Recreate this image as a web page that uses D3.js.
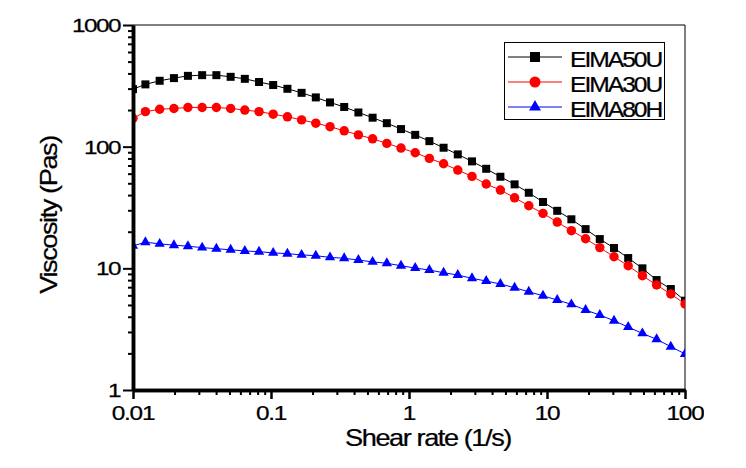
<!DOCTYPE html>
<html>
<head>
<meta charset="utf-8">
<script src="https://cdn.jsdelivr.net/npm/d3@7"></script>
<style>
  html, body { margin: 0; padding: 0; background: #fff; }
  svg { display: block; }
  text { font-family: "Liberation Sans", Arial, sans-serif; fill: #000; stroke: #000; stroke-width: 0.25px; }
</style>
</head>
<body>
<div id="chart"></div>
<script>
// ---------------- data ----------------
const shearRate = [0.01, 0.0123, 0.0156, 0.0198, 0.0250, 0.0317, 0.0402, 0.0510, 0.0646, 0.0819,
  0.1037, 0.1315, 0.1666, 0.2112, 0.2677, 0.3392, 0.4299, 0.5449, 0.6906, 0.875,
  1.109, 1.405, 1.781, 2.257, 2.861, 3.626, 4.595, 5.824, 7.381, 9.354,
  11.86, 15.02, 19.04, 24.13, 30.59, 38.76, 49.13, 62.27, 78.92, 100];

const eima50u = [297, 325, 348, 366, 382, 387, 387, 375, 361, 340,
  321, 299, 277, 254, 231, 212, 191, 173, 156, 139.5,
  125, 111, 98, 86.4, 75.7, 65.8, 56.6, 49.0, 41.8, 35.1,
  29.7, 25.3, 21.0, 17.4, 14.7, 12.15, 10.0, 8.01, 6.76, 5.42];

const eima30u = [171, 194, 203, 206, 210, 210, 210, 206, 200, 194,
  185, 176, 166, 156, 146, 135, 125, 116, 106.4, 97.4,
  89.1, 80.1, 72.4, 64.2, 57.0, 49.3, 44.0, 38.0, 32.7, 28.3,
  24.0, 20.4, 17.5, 14.8, 12.45, 10.5, 8.70, 7.29, 6.15, 5.09];

const eima80h = [15.3, 16.4, 15.9, 15.5, 15.2, 14.8, 14.5, 14.2, 13.9, 13.7,
  13.4, 13.2, 12.9, 12.7, 12.3, 12.1, 11.7, 11.3, 11.0, 10.5,
  10.06, 9.68, 9.20, 8.81, 8.28, 7.86, 7.43, 6.93, 6.42, 5.95,
  5.49, 5.06, 4.54, 4.13, 3.71, 3.29, 2.92, 2.61, 2.27, 1.98];

const seriesNames = ["EIMA50U", "EIMA30U", "EIMA80H"];
const seriesColors = ["#000000", "#ff0000", "#0000ff"];
const seriesShapes = ["square", "circle", "triangle"];

const xTickValues = [0.01, 0.1, 1, 10, 100];
const xTickLabels = ["0.01", "0.1", "1", "10", "100"];
const yTickValues = [1, 10, 100, 1000];
const yTickLabels = ["1", "10", "100", "1000"];

const xTitle = "Shear rate (1/s)";
const yTitle = "Viscosity (Pas)";

// ---------------- layout ----------------
const W = 746, H = 468;
const mLeft = 133, mRight = 685, mTop = 25, mBottom = 390;

const svg = d3.select("#chart").append("svg").attr("width", W).attr("height", H);
const defs = svg.append("defs");
defs.append("clipPath").attr("id", "plotClip").append("rect")
  .attr("x", mLeft).attr("y", mTop).attr("width", mRight - mLeft).attr("height", mBottom - mTop);
defs.append("clipPath").attr("id", "pageClip").append("rect")
  .attr("x", 0).attr("y", 0).attr("width", 704).attr("height", H);

const root = svg.append("g").attr("clip-path", "url(#pageClip)");

const x = d3.scaleLog().domain([0.01, 100]).range([mLeft, mRight]);
const y = d3.scaleLog().domain([1, 1000]).range([mBottom, mTop]);

function minors(lo, hi) {
  const out = [];
  for (let d = lo; d < hi; d *= 10) for (let m = 2; m <= 9; m++) out.push(d * m);
  return out;
}

// frame (top/right thin)
root.append("path")
  .attr("d", `M${mLeft},${mTop}H${mRight}V${mBottom}`)
  .attr("fill", "none").attr("stroke", "#000").attr("stroke-width", 1);

// ---------------- series ----------------
const data = [eima50u, eima30u, eima80h];
const plot = root.append("g").attr("clip-path", "url(#plotClip)");

function symbolFor(shape, big) {
  if (shape === "square") return d3.symbol(d3.symbolSquare, big ? 100 : 64);
  if (shape === "circle") return d3.symbol(d3.symbolCircle, big ? 95 : 70);
  return d3.symbol(d3.symbolTriangle, big ? 62 : 46);
}

data.forEach((vals, si) => {
  const pts = shearRate.map((r, i) => [r, vals[i]]);
  plot.append("path")
    .datum(pts)
    .attr("fill", "none")
    .attr("stroke", seriesColors[si])
    .attr("stroke-width", 1)
    .attr("d", d3.line().x(d => x(d[0])).y(d => y(d[1])));
  plot.append("g").selectAll("path")
    .data(pts)
    .join("path")
    .attr("transform", d => `translate(${x(d[0])},${y(d[1])})`)
    .attr("d", symbolFor(seriesShapes[si], false)())
    .attr("fill", seriesColors[si]);
});

// ---------------- axes ----------------
const gy = root.append("g").attr("transform", `translate(${mLeft},0)`);
gy.call(d3.axisLeft(y).tickValues(minors(1, 1000)).tickSize(5).tickSizeOuter(0).tickFormat(""));
gy.selectAll(".tick line").attr("stroke-width", 2);
const gyMaj = root.append("g").attr("transform", `translate(${mLeft},0)`);
gyMaj.call(d3.axisLeft(y).tickValues(yTickValues).tickSize(10).tickSizeOuter(0).tickFormat(""));
gyMaj.selectAll(".tick line").attr("stroke-width", 2);
[gy, gyMaj].forEach(g => g.select(".domain").attr("stroke-width", 3.5));

const gx = root.append("g").attr("transform", `translate(0,${mBottom})`);
gx.call(d3.axisBottom(x).tickValues(minors(0.01, 100)).tickSize(5).tickSizeOuter(0).tickFormat(""));
gx.selectAll(".tick line").attr("stroke-width", 2);
const gxMaj = root.append("g").attr("transform", `translate(0,${mBottom})`);
gxMaj.call(d3.axisBottom(x).tickValues(xTickValues).tickSize(9).tickSizeOuter(0).tickFormat(""));
gxMaj.selectAll(".tick line").attr("stroke-width", 2.5);
[gx, gxMaj].forEach(g => g.select(".domain").attr("stroke-width", 3.5));

// tick labels (stretched horizontally like the original)
root.append("g").selectAll("text")
  .data(yTickValues)
  .join("text")
  .attr("transform", d => `translate(${mLeft - 13},${y(d) + 7}) scale(1.28,1)`)
  .attr("text-anchor", "end")
  .attr("font-size", 19)
  .attr("letter-spacing", -1.2)
  .text((d, i) => yTickLabels[i]);

root.append("g").selectAll("text")
  .data(xTickValues)
  .join("text")
  .attr("transform", d => `translate(${x(d)},${mBottom + 30}) scale(1.22,1)`)
  .attr("text-anchor", "middle")
  .attr("font-size", 20)
  .attr("letter-spacing", -1)
  .text((d, i) => xTickLabels[i]);

// axis titles
root.append("text")
  .attr("transform", `translate(428,446) scale(1.18,1)`)
  .attr("text-anchor", "middle")
  .attr("font-size", 23)
  .attr("letter-spacing", -1.2)
  .text(xTitle);

root.append("text")
  .attr("transform", `translate(57,215) rotate(-90) scale(1.18,1)`)
  .attr("text-anchor", "middle")
  .attr("font-size", 23)
  .attr("letter-spacing", -1.2)
  .text(yTitle);

// ---------------- legend ----------------
const lg = root.append("g");
lg.append("rect")
  .attr("x", 504.5).attr("y", 42.5).attr("width", 160).attr("height", 77)
  .attr("fill", "#fff").attr("stroke", "#000").attr("stroke-width", 1);
const rowY = [57, 82, 107];
seriesNames.forEach((name, i) => {
  const cy = rowY[i];
  lg.append("line").attr("x1", 508).attr("x2", 562).attr("y1", cy).attr("y2", cy)
    .attr("stroke", seriesColors[i]).attr("stroke-width", 1);
  lg.append("path").attr("transform", `translate(535,${cy})`)
    .attr("d", symbolFor(seriesShapes[i], true)()).attr("fill", seriesColors[i]);
  lg.append("text").attr("transform", `translate(570,${cy + 10}) scale(1.12,1)`)
    .attr("font-size", 22).attr("letter-spacing", -1.8)
    .text(name);
});
</script>
</body>
</html>
